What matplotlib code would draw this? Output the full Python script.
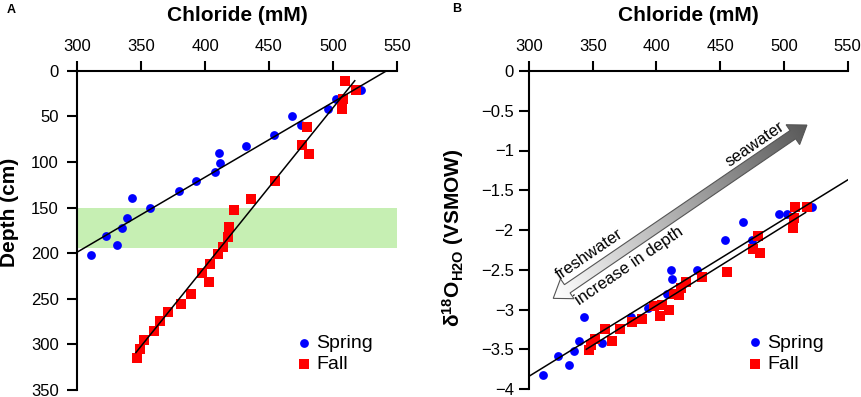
import numpy as np
import matplotlib
matplotlib.use('Agg')
import matplotlib.pyplot as plt
from matplotlib.patches import Polygon
from matplotlib.colors import LinearSegmentedColormap
from matplotlib.ticker import FuncFormatter

plt.rcParams['font.family'] = ['Liberation Sans', 'DejaVu Sans']
plt.rcParams['mathtext.default'] = 'regular'

# spring samples: chloride (mM), depth (cm), d18O (permil VSMOW)
spring_cl = [522, 502, 496, 468, 475, 454, 432, 411, 412, 408, 393, 380,
             343, 357, 339, 335, 323, 331, 311]
spring_depth = [21, 31, 42, 50, 60, 71, 82, 90, 101, 111, 121, 132,
                140, 151, 161, 172, 181, 191, 202]
spring_d18o = [-1.71, -1.80, -1.80, -1.90, -2.12, -2.12, -2.50, -2.50, -2.62,
               -2.81, -2.98, -3.09, -3.10, -3.42, -3.40, -3.52, -3.59, -3.70, -3.82]

# fall samples
fall_cl = [509, 518, 508, 507, 480, 476, 481.5, 455, 436, 423, 419, 418, 414,
           410, 404, 398, 403, 389, 381, 371, 365, 360, 352, 349, 347]
fall_depth = [11, 21, 31, 42, 62, 81, 91, 121, 141, 153, 171, 182, 193,
              201, 212, 222, 232, 245, 256, 264, 274, 285, 295, 305, 315]
fall_d18o = [-1.71, -1.71, -1.85, -1.97, -2.08, -2.24, -2.29, -2.53, -2.59,
             -2.65, -2.73, -2.82, -2.80, -3.01, -2.94, -2.96, -3.08, -3.12,
             -3.16, -3.24, -3.40, -3.25, -3.37, -3.45, -3.51]

# regression lines (end points)
fitA_spring_cl, fitA_spring_depth = [300, 542], [199, 0]
fitA_fall_cl, fitA_fall_depth = [346, 517], [309, 11]
fitB_spring_cl, fitB_spring_d18o = [300, 550], [-3.84, -1.37]
fitB_fall_cl, fitB_fall_d18o = [345, 517], [-3.50, -1.78]

band_depth = [150, 194]
arrow_cl = [319, 518]
arrow_d18o = [-2.86, -0.68]

blue = '#0000ff'
red = '#ff0000'

fig = plt.figure(figsize=(8.62, 3.97), dpi=100)
axA = fig.add_axes([77/862, 7/397, 320/862, 319.3/397])
axB = fig.add_axes([529/862, 8/397, 318.7/862, 318/397])


def style(ax, ypad):
    ax.xaxis.tick_top()
    ax.xaxis.set_label_position('top')
    for s in ['right', 'bottom']:
        ax.spines[s].set_visible(False)
    for s in ['top', 'left']:
        ax.spines[s].set_linewidth(1.5)
    ax.tick_params(direction='out', length=7, width=1.5, labelsize=12)
    ax.tick_params(axis='x', pad=5)
    ax.tick_params(axis='y', pad=ypad)
    ax.set_xlim(300, 550)
    ax.set_xticks(np.arange(300, 551, 50))
    ax.set_xlabel('Chloride (mM)', fontsize=15, fontweight='bold', labelpad=13)


# ---- panel A ----
style(axA, 6)
axA.set_ylim(350, 0)
axA.set_yticks(np.arange(0, 351, 50))
axA.axhspan(band_depth[0], band_depth[1], color='#c6efb3', lw=0, zorder=0)
axA.scatter(spring_cl, spring_depth, s=40, color=blue, marker='o', lw=0, zorder=2, label='Spring')
axA.scatter(fall_cl, fall_depth, s=55, color=red, marker='s', lw=0, zorder=3, label='Fall')
axA.plot(fitA_spring_cl, fitA_spring_depth, color='k', lw=1.1, zorder=4)
axA.plot(fitA_fall_cl, fitA_fall_depth, color='k', lw=1.1, zorder=4)
axA.set_ylabel('Depth (cm)', fontsize=15, fontweight='bold')
axA.yaxis.set_label_coords(-0.182, 0.557)
axA.legend(loc='upper left', bbox_to_anchor=(0.69, 0.175), frameon=False, fontsize=14,
           handlelength=0.6, handletextpad=0.35, labelspacing=0.2, borderpad=0, borderaxespad=0)
fig.text(7/862, 1 - 10/397, 'A', fontsize=9, fontweight='bold', va='center')

# ---- panel B ----
style(axB, 4)
axB.set_ylim(-4, 0)
axB.set_yticks(np.arange(-4, 0.01, 0.5))
axB.yaxis.set_major_formatter(FuncFormatter(lambda v, p: ('%g' % v).replace('-', '\u2212')))
axB.scatter(spring_cl, spring_d18o, s=40, color=blue, marker='o', lw=0, zorder=2, label='Spring')
axB.scatter(fall_cl, fall_d18o, s=55, color=red, marker='s', lw=0, zorder=3, label='Fall')
axB.plot(fitB_spring_cl, fitB_spring_d18o, color='k', lw=1.1, zorder=4)
axB.plot(fitB_fall_cl, fitB_fall_d18o, color='k', lw=1.1, zorder=4)
axB.set_ylabel('\u03b4$^{18}$O$_{H2O}$ (VSMOW)', fontsize=15, fontweight='bold')
axB.yaxis.set_label_coords(-0.198, 0.475)
axB.legend(loc='upper left', bbox_to_anchor=(0.69, 0.173), frameon=False, fontsize=14,
           handlelength=0.6, handletextpad=0.35, labelspacing=0.2, borderpad=0, borderaxespad=0)
fig.text(452/862, 1 - 9/397, 'B', fontsize=9, fontweight='bold', va='center')

# gradient double arrow (freshwater <-> seawater)
p0 = axB.transData.transform((arrow_cl[0], arrow_d18o[0]))
p1 = axB.transData.transform((arrow_cl[1], arrow_d18o[1]))
L = np.hypot(*(p1 - p0))
u = (p1 - p0) / L
n = np.array([-u[1], u[0]])
hl, hw, sw = 17, 12, 5
pts = [p0, p0 + hl*u + hw*n, p0 + hl*u + sw*n, p1 - hl*u + sw*n, p1 - hl*u + hw*n,
       p1, p1 - hl*u - hw*n, p1 - hl*u - sw*n, p0 + hl*u - sw*n, p0 + hl*u - hw*n]
pts = np.array(pts)
poly = Polygon(pts, closed=True, transform=None, facecolor='none',
               edgecolor='#555555', lw=0.8, zorder=6)
axB.add_artist(poly)

x0, y0 = pts.min(axis=0) - 2
x1, y1 = pts.max(axis=0) + 2
gx, gy = np.meshgrid(np.linspace(x0, x1, 300), np.linspace(y0, y1, 300))
t = ((gx - p0[0]) * u[0] + (gy - p0[1]) * u[1]) / L
cmap = LinearSegmentedColormap.from_list('g', ['#ffffff', '#595959'])
inv = axB.transData.inverted()
(dx0, dy0), (dx1, dy1) = inv.transform([(x0, y0), (x1, y1)])
clip = Polygon(pts, closed=True, transform=None, facecolor='none', edgecolor='none')
axB.add_artist(clip)
im = axB.imshow(t, cmap=cmap, vmin=0, vmax=1, origin='lower', extent=(dx0, dx1, dy0, dy1),
                aspect='auto', interpolation='bilinear', zorder=5)
im.set_clip_path(clip)
axB.set_xlim(300, 550)
axB.set_ylim(-4, 0)

ang = np.degrees(np.arctan2(u[1], u[0]))
axB.text(477, -0.92, 'seawater', fontsize=12, rotation=ang, rotation_mode='anchor',
         ha='center', va='center')
axB.text(347, -2.30, 'freshwater', fontsize=12, rotation=ang, rotation_mode='anchor',
         ha='center', va='center')
axB.text(378.5, -2.45, 'increase in depth', fontsize=12, rotation=ang, rotation_mode='anchor',
         ha='center', va='center')

fig.savefig('out.png', dpi=100)
